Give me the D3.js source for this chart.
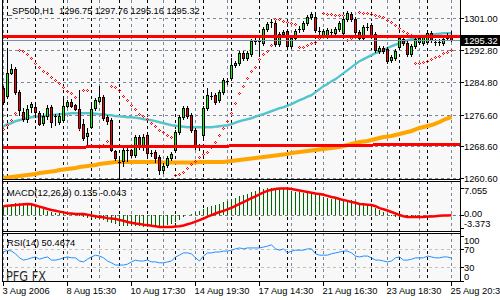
<!DOCTYPE html>
<html>
<head>
<meta charset="utf-8">
<script src="https://d3js.org/d3.v7.min.js"></script>
<style>
  body { margin: 0; background: #fff; }
  svg { display: block; font-family: "Liberation Sans", Arial, sans-serif; }
</style>
</head>
<body>
<div id="chart"></div>
<script>
// _SP500 H1 bars, 3 Aug 2006 20:30 .. 25 Aug 2006 20:30 (113 bars)
var opens = [
  1283.33, 1281.31, 1287.11, 1288.12, 1282.32, 1277.27, 1275.50, 1278.53, 1278.53, 1277.01,
  1274.49, 1276.26, 1278.53, 1276.26, 1274.74, 1275.25, 1278.78, 1279.79, 1279.03, 1278.02,
  1274.24, 1271.21, 1273.48, 1278.28, 1280.04, 1281.05, 1276.00, 1275.25, 1267.42, 1264.64,
  1264.89, 1267.67, 1267.67, 1266.41, 1270.95, 1268.43, 1271.46, 1266.91, 1267.17, 1265.90,
  1262.62, 1263.88, 1265.65, 1267.67, 1272.22, 1276.00, 1278.28, 1276.51, 1272.72, 1268.43,
  1271.46, 1278.28, 1281.31, 1281.56, 1280.30, 1282.32, 1285.09, 1285.85, 1289.13, 1289.64,
  1292.16, 1290.90, 1291.91, 1295.19, 1295.19, 1294.69, 1298.22, 1299.99, 1299.74, 1294.44,
  1296.96, 1297.72, 1293.93, 1295.95, 1298.22, 1298.22, 1299.74, 1301.25, 1301.25, 1297.72,
  1296.71, 1296.46, 1297.47, 1297.21, 1298.22, 1297.21, 1300.75, 1302.01, 1300.75, 1297.47,
  1295.95, 1298.73, 1299.23, 1296.96, 1292.67, 1293.43, 1293.17, 1290.40, 1290.90, 1293.68,
  1295.70, 1294.69, 1291.91, 1293.93, 1294.94, 1294.69, 1294.94, 1297.21, 1294.94, 1294.94,
  1294.69, 1295.95, 1296.75
];
var highs = [
  1283.83, 1292.92, 1289.39, 1288.63, 1282.82, 1278.28, 1279.03, 1279.79, 1279.54, 1277.52,
  1277.01, 1279.03, 1279.03, 1276.76, 1277.01, 1280.80, 1280.30, 1280.55, 1279.29, 1282.82,
  1275.50, 1273.23, 1279.29, 1280.80, 1283.83, 1281.56, 1276.51, 1275.75, 1267.67, 1265.90,
  1268.43, 1268.18, 1267.92, 1271.46, 1271.46, 1271.71, 1271.96, 1267.67, 1267.67, 1266.41,
  1264.39, 1266.16, 1267.17, 1272.72, 1276.51, 1278.78, 1278.78, 1277.01, 1273.23, 1269.19,
  1278.78, 1283.33, 1282.32, 1282.06, 1282.82, 1285.85, 1285.85, 1290.90, 1290.14, 1292.67,
  1292.67, 1292.67, 1295.70, 1296.20, 1296.20, 1298.73, 1299.99, 1300.75, 1300.24, 1297.47,
  1297.97, 1298.22, 1296.46, 1298.22, 1298.98, 1300.24, 1301.76, 1302.52, 1301.76, 1298.73,
  1298.22, 1298.48, 1298.22, 1298.73, 1300.24, 1301.25, 1302.77, 1302.52, 1301.25, 1297.97,
  1299.23, 1299.74, 1299.74, 1297.47, 1293.93, 1293.93, 1293.68, 1291.66, 1293.17, 1296.46,
  1296.20, 1295.19, 1294.44, 1296.20, 1296.46, 1296.71, 1297.72, 1297.72, 1295.70, 1295.70,
  1296.20, 1297.21, 1297.76
];
var lows = [
  1279.29, 1280.80, 1286.86, 1281.81, 1276.51, 1274.99, 1274.74, 1277.27, 1276.00, 1273.98,
  1273.98, 1275.50, 1273.48, 1273.98, 1274.24, 1274.74, 1278.53, 1278.53, 1277.77, 1272.72,
  1270.20, 1268.68, 1273.23, 1277.77, 1279.79, 1275.25, 1274.24, 1267.42, 1265.15, 1260.60,
  1263.63, 1264.89, 1265.90, 1265.90, 1267.92, 1267.67, 1266.16, 1266.16, 1264.64, 1261.61,
  1261.86, 1263.38, 1265.15, 1267.17, 1271.71, 1275.50, 1275.75, 1272.22, 1267.92, 1267.67,
  1270.95, 1277.77, 1280.55, 1279.29, 1279.79, 1281.81, 1284.34, 1285.35, 1288.63, 1289.13,
  1290.40, 1290.40, 1291.41, 1294.44, 1292.16, 1294.18, 1297.72, 1298.73, 1293.93, 1293.93,
  1296.46, 1293.43, 1293.43, 1295.45, 1297.47, 1297.72, 1299.23, 1300.75, 1297.47, 1296.71,
  1296.20, 1295.95, 1296.71, 1296.71, 1297.72, 1296.71, 1300.24, 1300.24, 1296.96, 1295.45,
  1295.45, 1297.97, 1296.20, 1292.42, 1292.16, 1292.16, 1289.64, 1289.89, 1290.40, 1293.17,
  1294.18, 1291.41, 1291.41, 1293.43, 1294.44, 1294.18, 1294.44, 1294.94, 1294.18, 1294.18,
  1294.18, 1295.45, 1295.16
];
var closes = [
  1279.79, 1287.11, 1288.12, 1282.32, 1277.77, 1275.50, 1278.02, 1279.29, 1277.27, 1274.24,
  1276.26, 1278.28, 1274.74, 1276.26, 1276.26, 1278.78, 1279.79, 1278.78, 1278.02, 1273.23,
  1270.70, 1271.96, 1278.02, 1280.30, 1281.05, 1275.75, 1274.99, 1267.67, 1265.65, 1264.64,
  1267.67, 1267.67, 1266.41, 1270.95, 1268.43, 1270.95, 1266.91, 1266.91, 1265.65, 1262.62,
  1263.63, 1265.65, 1266.66, 1272.22, 1276.00, 1278.28, 1276.26, 1272.72, 1268.43, 1268.43,
  1278.28, 1281.56, 1281.31, 1279.79, 1282.32, 1285.35, 1285.09, 1289.13, 1289.64, 1292.16,
  1290.90, 1292.16, 1295.19, 1295.19, 1295.19, 1298.22, 1299.49, 1299.99, 1294.44, 1296.96,
  1297.47, 1293.93, 1295.95, 1297.72, 1298.22, 1299.74, 1301.25, 1302.01, 1297.97, 1297.72,
  1297.72, 1297.97, 1297.47, 1298.22, 1299.74, 1300.75, 1302.26, 1300.75, 1297.47, 1295.95,
  1298.73, 1298.73, 1296.71, 1292.92, 1293.43, 1292.67, 1290.14, 1291.15, 1292.67, 1295.95,
  1294.69, 1291.91, 1293.93, 1295.70, 1295.95, 1296.20, 1297.21, 1295.45, 1294.94, 1294.94,
  1295.70, 1296.71, 1295.32
];

// parabolic SAR dots (null where no dot shows)
var sarValues = [
  1272.97, 1273.98, 1275.25, 1277.01, 1292.92, 1292.67, 1291.91, 1290.90, 1289.64, 1288.63,
  1287.62, 1287.11, 1286.10, 1285.35, 1284.59, 1283.58, 1282.57, 1282.06, 1281.05, 1273.23,
  1282.82, 1282.82, null, null, 1268.43, 1268.93, 1269.94, 1283.83, 1283.58, 1282.82,
  1281.31, 1280.30, 1279.03, 1278.02, 1276.76, 1276.26, 1275.50, 1274.49, 1273.73, 1272.72,
  1272.22, 1271.46, 1270.95, 1261.36, 1261.61, 1262.12, 1263.13, 1264.14, 1264.89, 1265.90,
  1266.66, 1267.17, 1268.43, 1269.69, 1271.46, 1273.23, 1274.99, 1277.01, 1279.54, 1282.06,
  1283.83, 1285.85, 1287.62, 1288.63, 1290.65, 1291.91, 1292.67, 1294.18, 1300.75, 1300.75,
  1300.24, 1299.99, 1299.74, 1299.49, 1293.68, 1293.68, 1294.18, 1294.69, 1294.94, 1295.95,
  1302.26, 1302.01, 1302.01, 1301.76, 1301.76, 1301.76, 1295.45, 1295.95, 1296.20, 1302.52,
  1302.26, 1302.26, 1302.01, 1301.76, 1301.51, 1301.25, 1300.50, 1299.99, 1299.23, 1298.48,
  1297.72, 1297.21, 1296.71, 1289.64, 1289.64, 1289.89, 1290.14, 1290.65, 1291.15, 1291.41,
  1292.16, 1292.42, 1292.92
];

// turquoise moving average
var maFast = [
  1273.73, 1274.24, 1274.49, 1274.99, 1275.25, 1275.50, 1275.75, 1276.00, 1276.13, 1276.26,
  1276.26, 1276.51, 1276.51, 1276.63, 1276.76, 1276.76, 1276.89, 1277.01, 1277.01, 1277.01,
  1277.01, 1277.01, 1277.01, 1276.89, 1276.76, 1276.76, 1276.51, 1276.51, 1276.26, 1276.26,
  1276.13, 1276.00, 1276.00, 1275.88, 1275.75, 1275.50, 1275.37, 1275.25, 1274.99, 1274.74,
  1274.49, 1274.24, 1273.98, 1273.86, 1273.73, 1273.60, 1273.48, 1273.48, 1273.48, 1273.48,
  1273.48, 1273.48, 1273.48, 1273.60, 1273.73, 1273.86, 1273.98, 1274.24, 1274.62, 1274.99,
  1275.25, 1275.50, 1275.75, 1276.13, 1276.51, 1276.76, 1277.14, 1277.52, 1277.90, 1278.28,
  1278.53, 1278.91, 1279.29, 1279.79, 1280.30, 1280.67, 1281.18, 1281.56, 1282.32, 1283.07,
  1283.83, 1284.34, 1285.09, 1285.60, 1286.36, 1287.11, 1287.87, 1288.63, 1289.39, 1290.14,
  1290.65, 1291.15, 1291.66, 1292.16, 1292.54, 1292.92, 1293.43, 1293.93, 1294.31, 1294.69,
  1295.07, 1295.45, 1295.70, 1295.95, 1296.20, 1296.46, 1296.71, 1296.83, 1296.96, 1297.09,
  1297.21, 1297.21, 1297.21
];

// orange moving average
var maSlow = [
  1260.60, 1260.73, 1260.85, 1260.98, 1261.11, 1261.23, 1261.36, 1261.49, 1261.61, 1261.86,
  1261.99, 1262.12, 1262.24, 1262.37, 1262.62, 1262.75, 1262.87, 1263.00, 1263.13, 1263.38,
  1263.51, 1263.63, 1263.76, 1263.88, 1264.14, 1264.26, 1264.39, 1264.52, 1264.64, 1264.64,
  1264.64, 1264.64, 1264.64, 1264.64, 1264.64, 1264.64, 1264.64, 1264.64, 1264.64, 1264.64,
  1264.52, 1264.52, 1264.52, 1264.52, 1264.52, 1264.52, 1264.52, 1264.52, 1264.52, 1264.64,
  1264.64, 1264.64, 1264.64, 1264.64, 1264.64, 1264.64, 1264.77, 1264.89, 1265.02, 1265.15,
  1265.27, 1265.40, 1265.52, 1265.65, 1265.78, 1265.90, 1266.03, 1266.16, 1266.28, 1266.41,
  1266.54, 1266.66, 1266.91, 1267.04, 1267.17, 1267.29, 1267.42, 1267.55, 1267.67, 1267.80,
  1267.92, 1268.05, 1268.18, 1268.30, 1268.43, 1268.68, 1268.93, 1269.19, 1269.44, 1269.69,
  1269.82, 1269.94, 1270.20, 1270.45, 1270.70, 1270.95, 1271.08, 1271.21, 1271.46, 1271.71,
  1271.96, 1272.22, 1272.47, 1272.85, 1273.23, 1273.48, 1273.73, 1273.98, 1274.36, 1274.74,
  1275.25, 1275.63, 1276.00
];

var macdMain = [
  2.2, 2.6, 2.9, 3.1, 3.2, 3.2, 3.1, 3.0, 2.7, 2.2,
  1.6, 1.1, 0.8, 0.6, 0.5, 0.5, 0.3, 0.2, 0.1, -0.2,
  -0.4, -0.7, -0.8, -0.9, -1.0, -1.4, -1.7, -2.1, -2.4, -2.7,
  -2.8, -2.9, -2.9, -2.8, -2.9, -3.0, -3.1, -3.1, -3.1, -3.0,
  -2.8, -2.6, -2.3, -1.8, -1.2, -0.6, -0.1, 0.4, 0.8, 1.1,
  1.6, 2.0, 2.3, 2.6, 3.0, 3.4, 3.7, 4.1, 4.5, 4.9,
  5.2, 5.5, 5.9, 6.2, 6.5, 6.8, 7.0, 7.055, 7.0, 6.9,
  6.8, 6.5, 6.2, 6.0, 5.9, 5.8, 5.9, 5.9, 5.6, 5.2,
  4.8, 4.5, 4.3, 4.1, 4.0, 4.0, 4.0, 3.8, 3.4, 3.0,
  2.8, 2.6, 2.3, 1.8, 1.2, 0.7, 0.2, -0.3, -0.5, -0.4,
  -0.4, -0.5, -0.4, -0.3, -0.2, -0.1, 0.0, 0.0, -0.1, -0.1,
  0.0, 0.1, 0.135
];
var macdSignal = [
  2.3, 2.4, 2.5, 2.6, 2.7, 2.8, 2.9, 2.8, 2.5, 2.2,
  1.9, 1.6, 1.3, 1.1, 0.9, 0.7, 0.5, 0.4, 0.3, 0.3,
  0.3, 0.1, -0.1, -0.3, -0.5, -0.6, -0.8, -0.9, -1.0, -1.3,
  -1.5, -1.8, -2.0, -2.2, -2.3, -2.5, -2.6, -2.8, -2.9, -3.1,
  -3.1, -3.1, -3.1, -3.0, -2.9, -2.7, -2.4, -2.1, -1.7, -1.3,
  -0.9, -0.4, 0.0, 0.4, 0.8, 1.1, 1.5, 1.9, 2.4, 2.9,
  3.4, 3.9, 4.4, 4.9, 5.4, 5.9, 6.3, 6.6, 6.8, 6.9,
  6.9, 6.9, 6.8, 6.6, 6.4, 6.2, 6.0, 5.8, 5.6, 5.5,
  5.3, 5.0, 4.7, 4.5, 4.2, 3.9, 3.7, 3.4, 3.2, 2.9,
  2.8, 2.7, 2.6, 2.3, 1.8, 1.5, 1.2, 0.8, 0.4, 0.0,
  -0.3, -0.5, -0.5, -0.5, -0.5, -0.5, -0.4, -0.4, -0.3, -0.2,
  -0.1, -0.1, -0.043
];
var rsiValues = [
  64, 68, 66, 60, 51, 46, 48, 51, 53, 48,
  51, 53, 46, 46, 48, 51, 53, 51, 51, 44,
  42, 48, 53, 57, 55, 51, 44, 40, 35, 35,
  35, 37, 42, 46, 44, 44, 46, 42, 42, 40,
  40, 42, 44, 53, 57, 62, 62, 60, 51, 44,
  55, 62, 62, 64, 64, 66, 66, 68, 71, 73,
  71, 73, 73, 73, 73, 75, 77, 80, 71, 68,
  71, 62, 66, 68, 68, 68, 71, 71, 60, 57,
  57, 57, 60, 62, 64, 66, 66, 62, 55, 53,
  55, 55, 51, 46, 46, 44, 42, 44, 51, 53,
  46, 46, 48, 51, 51, 51, 55, 53, 51, 51,
  53, 53, 50.4674
];

var priceTicks = [1301.00, 1292.80, 1284.80, 1276.60, 1268.60, 1260.60];
var macdTicks = [7.055, 0.00, -3.373];
var rsiTicks = [100, 70, 30, 0];
var rsiLevels = [70, 30];
var timeLabels = ['3 Aug 2006', '8 Aug 15:30', '10 Aug 17:30', '14 Aug 19:30',
                  '17 Aug 14:30', '21 Aug 16:30', '23 Aug 18:30', '25 Aug 20:30'];
var symbolName = '_SP500,H1';
var levelPrice = 1296.33;          // horizontal red line
var trendPrices = [1268.28, 1269.07]; // red trend line at first and last bar

document.addEventListener('DOMContentLoaded', function() {
  var n = closes.length;
  var last = n - 1;

  var svg = d3.select('#chart').append('svg')
              .attr('width', 500)
              .attr('height', 300);

  svg.append('rect').attr('width', 500).attr('height', 300).attr('fill', '#ffffff');

  // scales: x gives the pixel column of a bar, the others give pixel rows
  var x = d3.scaleLinear().domain([0, last]).range([3, 3 + 4 * last]);
  var y = d3.scaleLinear().domain([1260.6, 1301.0]).range([178, 18]);
  var m = d3.scaleLinear().domain([-3.373, 7.055]).range([228, 188]);
  var r = d3.scaleLinear().domain([0, 100]).range([280.8, 235.8]);

  var panels = [{top: 0, bottom: 179}, {top: 181, bottom: 231}, {top: 233, bottom: 281}];
  var left = 2, right = 460;

  // panel backgrounds
  panels.forEach(function(p) {
    svg.append('rect')
       .attr('x', left).attr('y', p.top)
       .attr('width', right - left).attr('height', p.bottom - p.top + 1)
       .attr('fill', '#f8f8f8');
  });

  var grid = svg.append('g').attr('shape-rendering', 'crispEdges');

  // vertical grid every 8 bars, day separators every 7 bars
  panels.forEach(function(p) {
    grid.selectAll(null).data(d3.range(0, n, 8)).enter().append('line')
        .attr('x1', function(d) { return x(d) + 0.5; })
        .attr('x2', function(d) { return x(d) + 0.5; })
        .attr('y1', p.top).attr('y2', p.bottom)
        .attr('stroke', '#778899').attr('stroke-dasharray', '3,3');
    grid.selectAll(null).data(d3.range(1, n, 7)).enter().append('line')
        .attr('x1', function(d) { return x(d) + 0.5; })
        .attr('x2', function(d) { return x(d) + 0.5; })
        .attr('y1', p.top).attr('y2', p.bottom)
        .attr('stroke', '#000000').attr('stroke-dasharray', '3,3');
  });

  // horizontal price grid
  grid.selectAll(null).data(priceTicks).enter().append('line')
      .attr('x1', left + 1).attr('x2', right)
      .attr('y1', function(d) { return Math.round(y(d)) + 0.5; })
      .attr('y2', function(d) { return Math.round(y(d)) + 0.5; })
      .attr('stroke', '#778899').attr('stroke-dasharray', '3,3');

  // MACD zero line, RSI levels
  grid.append('line')
      .attr('x1', left + 1).attr('x2', right)
      .attr('y1', Math.round(m(0)) + 0.5).attr('y2', Math.round(m(0)) + 0.5)
      .attr('stroke', '#808080').attr('stroke-dasharray', '3,3');
  grid.selectAll(null).data(rsiLevels).enter().append('line')
      .attr('x1', left + 1).attr('x2', right)
      .attr('y1', function(d) { return Math.round(r(d)) + 0.5; })
      .attr('y2', function(d) { return Math.round(r(d)) + 0.5; })
      .attr('stroke', '#c0c0c0').attr('stroke-dasharray', '3,3');

  // clip for the price panel
  svg.append('clipPath').attr('id', 'mainClip')
     .append('rect').attr('x', left + 1).attr('y', 0).attr('width', right - left - 1).attr('height', 179);

  var main = svg.append('g').attr('clip-path', 'url(#mainClip)');

  var maLine = function(scale) {
    return d3.line()
             .x(function(d, i) { return x(i) + 0.5; })
             .y(function(d) { return scale(d); });
  };

  main.append('path').datum(maSlow)
      .attr('d', maLine(y))
      .attr('fill', 'none').attr('stroke', '#ffa500').attr('stroke-width', 4);

  main.append('path').datum(maFast)
      .attr('d', maLine(function(d) { return y(d) + 1; }))
      .attr('fill', 'none').attr('stroke', '#a9a9a9').attr('stroke-width', 1);
  main.append('path').datum(maFast)
      .attr('d', maLine(y))
      .attr('fill', 'none').attr('stroke', '#48c8d0').attr('stroke-width', 2);

  // candles
  var candles = main.append('g').attr('shape-rendering', 'crispEdges');
  d3.range(n).forEach(function(i) {
    var cx = x(i);
    var hi = Math.round(y(highs[i])), lo = Math.round(y(lows[i]));
    candles.append('rect')
           .attr('x', cx).attr('y', hi)
           .attr('width', 1).attr('height', lo - hi + 1)
           .attr('fill', '#000');
    var top = Math.round(y(Math.max(opens[i], closes[i])));
    var bot = Math.round(y(Math.min(opens[i], closes[i])));
    if (bot - top < 1) {
      candles.append('rect').attr('x', cx - 1).attr('y', top)
             .attr('width', 3).attr('height', 1).attr('fill', '#000');
    } else {
      candles.append('rect').attr('x', cx - 1).attr('y', top)
             .attr('width', 3).attr('height', bot - top + 1).attr('fill', '#000');
      if (bot - top > 1) {
        candles.append('rect').attr('x', cx).attr('y', top + 1)
               .attr('width', 1).attr('height', bot - top - 1)
               .attr('fill', closes[i] > opens[i] ? '#00ff00' : '#ff0000');
      }
    }
  });

  // SAR dots
  main.append('g').selectAll('path')
      .data(sarValues.map(function(v, i) { return {i: i, v: v}; }).filter(function(d) { return d.v !== null; }))
      .enter().append('path')
      .attr('d', function(d) {
        var px = x(d.i), py = Math.round(y(d.v));
        return 'M' + px + ',' + (py - 1) + 'h1v1h-1z' +
               'M' + (px - 1) + ',' + py + 'h1v1h-1z' +
               'M' + (px + 1) + ',' + py + 'h1v1h-1z' +
               'M' + px + ',' + (py + 1) + 'h1v1h-1z';
      })
      .attr('fill', '#ff0000')
      .attr('shape-rendering', 'crispEdges');

  // red level and trend lines, bid line
  main.append('line')
      .attr('x1', left + 1).attr('x2', right)
      .attr('y1', y(levelPrice)).attr('y2', y(levelPrice))
      .attr('stroke', '#ff0000').attr('stroke-width', 3);
  var slope = (trendPrices[1] - trendPrices[0]) / last;
  main.append('line')
      .attr('x1', left + 1).attr('x2', right)
      .attr('y1', y(trendPrices[0] + slope * x.invert(left + 1)))
      .attr('y2', y(trendPrices[0] + slope * x.invert(right)))
      .attr('stroke', '#ff0000').attr('stroke-width', 3)
      .attr('shape-rendering', 'crispEdges');
  main.append('line')
      .attr('x1', left + 1).attr('x2', right)
      .attr('y1', Math.round(y(closes[last])) + 0.5).attr('y2', Math.round(y(closes[last])) + 0.5)
      .attr('stroke', '#8090a0').attr('stroke-width', 1);

  // MACD histogram and signal
  var macdG = svg.append('g').attr('shape-rendering', 'crispEdges');
  var zeroRow = Math.round(m(0));
  macdG.selectAll('rect').data(macdMain).enter().append('rect')
       .attr('x', function(d, i) { return x(i); })
       .attr('y', function(d) { return Math.min(Math.round(m(d)), zeroRow); })
       .attr('width', 1)
       .attr('height', function(d) { return Math.abs(Math.round(m(d)) - zeroRow); })
       .attr('fill', '#006400');
  svg.append('path').datum(macdSignal)
     .attr('d', maLine(m))
     .attr('fill', 'none').attr('stroke', '#ff0000').attr('stroke-width', 2.5);

  // RSI
  svg.append('path').datum(rsiValues)
     .attr('d', maLine(r))
     .attr('fill', 'none').attr('stroke', '#1e90ff').attr('stroke-width', 1);

  // borders
  var borders = svg.append('g').attr('shape-rendering', 'crispEdges').attr('stroke', '#000');
  borders.append('line').attr('x1', left + 0.5).attr('x2', left + 0.5).attr('y1', 0).attr('y2', 282);
  borders.append('line').attr('x1', right + 0.5).attr('x2', right + 0.5).attr('y1', 0).attr('y2', 282);
  panels.forEach(function(p, k) {
    if (k > 0) borders.append('line').attr('x1', left).attr('x2', right + 1).attr('y1', p.top + 0.5).attr('y2', p.top + 0.5);
    borders.append('line').attr('x1', left).attr('x2', right + 1).attr('y1', p.bottom + 0.5).attr('y2', p.bottom + 0.5);
  });

  // right-hand labels
  var labels = svg.append('g').attr('font-size', '9.3px').attr('fill', '#000');
  priceTicks.forEach(function(v) {
    var row = Math.round(y(v));
    borders.append('line').attr('x1', right).attr('x2', right + 4).attr('y1', row + 0.5).attr('y2', row + 0.5);
    labels.append('text').attr('x', 464).attr('y', row + 3.8).text(v.toFixed(2));
  });
  var macdShift = [6, 2, -1.5];
  macdTicks.forEach(function(v, k) {
    var row = Math.round(m(v));
    borders.append('line').attr('x1', right).attr('x2', right + 4).attr('y1', row + 0.5).attr('y2', row + 0.5);
    labels.append('text').attr('x', 464).attr('y', row + macdShift[k])
          .text(k === 1 ? v.toFixed(2) : v.toFixed(3));
  });
  var rsiShift = [8, 3.5, 3.5, -1];
  rsiTicks.forEach(function(v, k) {
    var row = Math.round(r(v));
    borders.append('line').attr('x1', right).attr('x2', right + 4).attr('y1', row + 0.5).attr('y2', row + 0.5);
    labels.append('text').attr('x', 464).attr('y', row + rsiShift[k]).text(v);
  });

  // current price box
  var bidRow = Math.round(y(closes[last]));
  svg.append('rect').attr('x', 461).attr('y', bidRow - 5).attr('width', 39).attr('height', 11).attr('fill', '#000');
  svg.append('text').attr('x', 464).attr('y', bidRow + 3.8)
     .attr('font-size', '9.3px').attr('fill', '#fff').text(closes[last].toFixed(2));

  // time axis
  var xAxis = d3.axisBottom(x)
                .tickValues(d3.range(0, n, 16))
                .tickFormat(function(d, k) { return timeLabels[k]; })
                .tickSizeInner(4).tickSizeOuter(0).tickPadding(1.5);
  var axisG = svg.append('g').attr('transform', 'translate(0,282)').call(xAxis);
  axisG.select('.domain').remove();
  axisG.selectAll('text')
       .attr('text-anchor', 'start').attr('dx', -1)
       .attr('font-size', '9.3px').attr('font-family', '"Liberation Sans", Arial, sans-serif');

  // titles
  svg.append('text').attr('x', 7).attr('y', 14).attr('font-size', '9.2px')
     .attr('xml:space', 'preserve')
     .text(symbolName + '  ' + opens[last].toFixed(2) + ' ' + highs[last].toFixed(2) + ' ' +
           lows[last].toFixed(2) + ' ' + closes[last].toFixed(2));
  svg.append('text').attr('x', 7).attr('y', 196).attr('font-size', '9.3px')
     .text('MACD(12,26,9) ' + macdMain[last].toFixed(3) + ' ' + macdSignal[last].toFixed(3));
  svg.append('text').attr('x', 7).attr('y', 246).attr('font-size', '9.3px')
     .text('RSI(14) ' + rsiValues[last].toFixed(4));
  svg.append('text').attr('x', 6).attr('y', 281)
     .attr('font-size', '14px').attr('font-family', '"DejaVu Sans", sans-serif')
     .attr('textLength', 40).attr('lengthAdjust', 'spacingAndGlyphs')
     .attr('fill', '#303030').text('PFG FX');
});
</script>
</body>
</html>
